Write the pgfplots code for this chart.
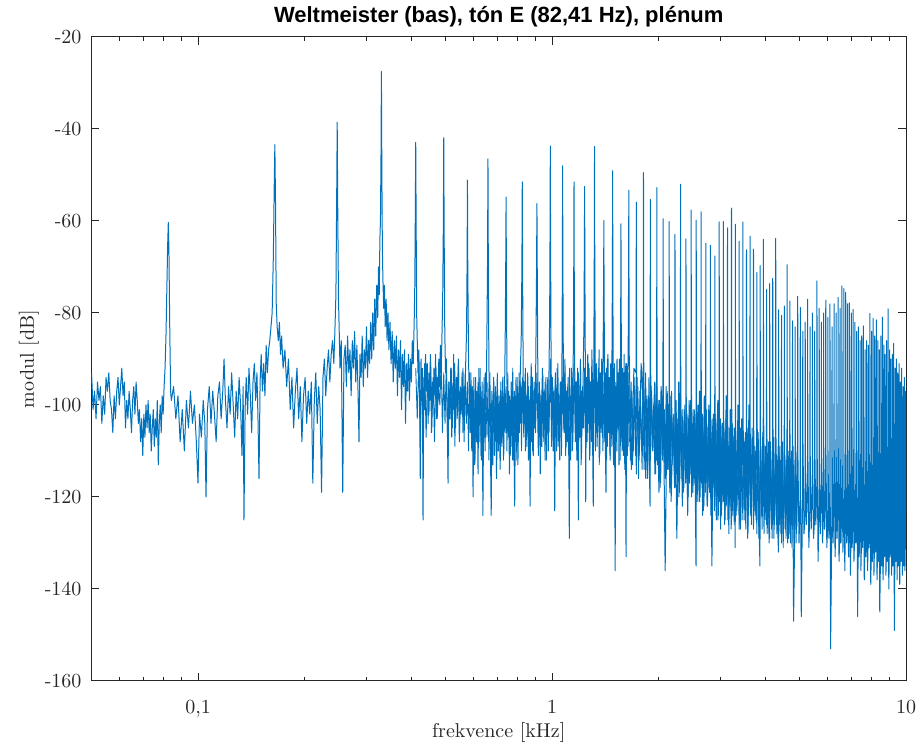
\documentclass[border=0pt]{standalone}
\usepackage{fontspec}
\usepackage{pgfplots}
\pgfplotsset{compat=1.18}
\usepackage{pgfplotstable}
\newfontfamily\titlefont{Liberation Sans}
\definecolor{mblue}{rgb}{0,0.447,0.741}
\definecolor{axgray}{rgb}{0.15,0.15,0.15}

% dense noise floor between harmonics, h = multiples of 82.41 Hz
\pgfplotstableread{
h db
5.00 -92
5.05 -103
5.10 -90
5.15 -106
5.20 -95
5.25 -101
5.30 -91
5.35 -107
5.40 -93
5.45 -102
5.50 -89
5.55 -105
5.60 -94
5.65 -108
5.70 -92
5.75 -103
5.80 -96
5.85 -100
5.90 -90
5.95 -106
6.00 -93
6.05 -104
6.10 -91
6.15 -107
6.20 -95
6.25 -102
6.30 -92
6.35 -105
6.40 -89
6.45 -109
6.50 -94
6.55 -103
6.60 -91
6.65 -106
6.70 -96
6.75 -101
6.80 -92
6.85 -108
6.90 -93
6.95 -104
7.00 -95
7.05 -110
7.10 -93
7.15 -106
7.20 -98
7.25 -109
7.30 -94
7.35 -112
7.40 -97
7.45 -105
7.50 -95
7.55 -108
7.60 -92
7.65 -111
7.70 -97
7.75 -106
7.80 -94
7.85 -110
7.90 -98
7.95 -107
8.00 -95
8.05 -112
8.10 -93
8.15 -108
8.20 -99
8.25 -105
8.30 -94
8.35 -111
8.40 -96
8.45 -107
8.50 -93
8.55 -110
8.60 -98
8.65 -104
8.70 -95
8.75 -109
8.80 -97
8.85 -112
8.90 -94
8.95 -106
9.00 -96
9.05 -110
9.10 -93
9.15 -107
9.20 -98
9.25 -111
9.30 -95
9.35 -105
9.40 -92
9.45 -109
9.50 -97
9.55 -106
9.60 -94
9.65 -112
9.70 -96
9.75 -108
9.80 -93
9.85 -104
9.90 -95
9.95 -110
10.0 -94
10.1 -107
10.2 -92
10.3 -109
10.4 -96
10.5 -104
10.6 -91
10.7 -110
10.8 -95
10.9 -106
11.0 -93
11.1 -111
11.2 -97
11.3 -105
11.4 -92
11.5 -108
11.6 -95
11.7 -112
11.8 -94
11.9 -106
12.0 -90
12.1 -109
12.2 -96
12.3 -104
12.4 -93
12.5 -110
12.6 -91
12.7 -107
12.8 -95
12.9 -111
13.0 -94
13.1 -105
13.2 -90
13.3 -109
13.4 -96
13.5 -106
13.6 -92
13.7 -112
13.8 -94
13.9 -108
14.0 -91
14.1 -104
14.2 -95
14.3 -110
14.4 -93
14.5 -107
14.6 -90
14.7 -111
14.8 -96
14.9 -105
15.0 -92
15.1 -109
15.2 -94
15.3 -106
15.4 -91
15.5 -112
15.6 -95
15.7 -108
15.8 -93
15.9 -104
16.0 -90
16.1 -110
16.2 -94
16.3 -107
16.4 -92
16.5 -113
16.6 -96
16.7 -106
16.8 -91
16.9 -110
17.0 -95
17.1 -108
17.2 -93
17.3 -112
17.4 -90
17.5 -106
17.6 -96
17.7 -111
17.8 -92
17.9 -109
18.0 -94
18.1 -113
18.2 -91
18.3 -107
18.4 -95
18.5 -110
18.6 -93
18.7 -105
18.8 -90
18.9 -112
19.0 -96
19.1 -108
19.2 -92
19.3 -111
19.4 -94
19.5 -106
19.6 -91
19.7 -113
19.8 -95
19.9 -109
20.0 -93
20.2 -112
20.4 -97
20.6 -110
20.8 -94
21.0 -115
21.2 -96
21.4 -111
21.6 -99
21.8 -114
22.0 -95
22.2 -109
22.4 -98
22.6 -116
22.8 -94
23.0 -112
23.2 -97
23.4 -110
23.6 -100
23.8 -115
24.0 -96
24.2 -113
24.4 -99
24.6 -117
24.8 -97
25.0 -111
25.2 -101
25.4 -116
25.6 -98
25.8 -114
26.0 -100
26.2 -118
26.4 -97
26.6 -112
26.8 -102
27.0 -117
27.2 -99
27.4 -115
27.6 -101
27.8 -119
28.0 -98
28.2 -114
28.4 -103
28.6 -118
28.8 -100
29.0 -116
29.2 -102
29.4 -120
29.6 -99
29.8 -115
30.0 -103
30.2 -119
30.4 -101
30.6 -117
30.8 -104
31.0 -121
31.2 -100
31.4 -116
31.6 -103
31.8 -120
32.0 -101
32.2 -118
32.4 -105
32.6 -122
32.8 -102
33.0 -117
33.2 -104
33.4 -121
33.6 -101
33.8 -119
34.0 -105
34.2 -123
34.4 -103
34.6 -118
34.8 -106
35.0 -122
35.2 -102
35.4 -120
35.6 -105
35.8 -124
36.0 -103
36.2 -119
36.4 -107
36.6 -123
36.8 -104
37.0 -121
37.2 -106
37.4 -125
37.6 -103
37.8 -120
38.0 -107
38.2 -124
38.4 -105
38.6 -122
38.8 -108
39.0 -126
39.2 -104
39.4 -121
39.6 -107
39.8 -125
40.0 -105
40.4 -123
40.8 -109
41.2 -126
41.6 -106
42.0 -122
42.4 -108
42.8 -127
43.2 -105
43.6 -124
44.0 -109
44.4 -126
44.8 -107
45.2 -123
45.6 -110
46.0 -128
46.4 -106
46.8 -125
47.2 -109
47.6 -127
48.0 -107
48.4 -124
48.8 -111
49.2 -128
49.6 -108
50.0 -126
50.4 -110
50.8 -129
51.2 -107
51.6 -125
52.0 -111
52.4 -128
52.8 -109
53.2 -126
53.6 -112
54.0 -130
54.4 -108
54.8 -127
55.2 -111
55.6 -129
56.0 -109
56.4 -126
56.8 -112
57.2 -130
57.6 -110
58.0 -127
58.4 -113
58.8 -129
59.2 -109
59.6 -128
60.0 -111
}\floor

% second pass of the noise floor between 1.65 and 5 kHz
\pgfplotstableread{
h db
20.1 -108
20.3 -95
20.5 -113
20.7 -98
20.9 -111
21.1 -94
21.3 -116
21.5 -97
21.7 -109
21.9 -99
22.1 -114
22.3 -93
22.5 -112
22.7 -98
22.9 -117
23.1 -96
23.3 -110
23.5 -100
23.7 -115
23.9 -95
24.1 -113
24.3 -99
24.5 -118
24.7 -97
24.9 -112
25.1 -101
25.3 -116
25.5 -96
25.7 -114
25.9 -100
26.1 -119
26.3 -98
26.5 -113
26.7 -102
26.9 -117
27.1 -99
27.3 -115
27.5 -103
27.7 -120
27.9 -98
28.1 -116
28.3 -101
28.5 -119
28.7 -104
28.9 -114
29.1 -100
29.3 -121
29.5 -103
29.7 -117
29.9 -99
30.1 -120
30.3 -104
30.5 -116
30.7 -101
30.9 -122
31.1 -105
31.3 -118
31.5 -100
31.7 -121
31.9 -104
32.1 -117
32.3 -102
32.5 -123
32.7 -106
32.9 -119
33.1 -101
33.3 -122
33.5 -105
33.7 -118
33.9 -103
34.1 -124
34.3 -106
34.5 -120
34.7 -102
34.9 -123
35.1 -107
35.3 -119
35.5 -104
35.7 -125
35.9 -106
36.1 -121
36.3 -103
36.5 -124
36.7 -108
36.9 -120
37.1 -105
37.3 -126
37.5 -107
37.7 -122
37.9 -104
38.1 -125
38.3 -109
38.5 -121
38.7 -106
38.9 -127
39.1 -105
39.3 -123
39.5 -108
39.7 -126
39.9 -106
40.2 -124
40.6 -107
41.0 -127
41.4 -105
41.8 -125
42.2 -109
42.6 -123
43.0 -106
43.4 -128
43.8 -108
44.2 -124
44.6 -105
45.0 -127
45.4 -109
45.8 -125
46.2 -107
46.6 -129
47.0 -110
47.4 -124
47.8 -106
48.2 -128
48.6 -109
49.0 -126
49.4 -111
49.8 -130
50.2 -108
50.6 -127
51.0 -110
51.4 -129
51.8 -107
52.2 -126
52.6 -112
53.0 -130
53.4 -109
53.8 -128
54.2 -111
54.6 -131
55.0 -108
55.4 -127
55.8 -112
56.2 -130
56.6 -110
57.0 -128
57.4 -113
57.8 -131
58.2 -109
58.6 -129
59.0 -112
59.4 -130
59.8 -110
}\floorb

% spectrum: h = frequency in multiples of the fundamental (82.41 Hz), db = modulus
\pgfplotstableread{
h db
0.607 -93
0.613 -101
0.619 -97
0.625 -103
0.631 -95
0.637 -99
0.643 -96
0.649 -104
0.655 -98
0.661 -102
0.667 -94
0.673 -97
0.679 -93
0.685 -99
0.691 -101
0.697 -106
0.703 -98
0.709 -103
0.715 -97
0.721 -94
0.727 -100
0.733 -96
0.739 -92
0.745 -98
0.751 -95
0.757 -105
0.763 -99
0.769 -103
0.775 -97
0.781 -101
0.787 -106
0.793 -99
0.799 -96
0.805 -102
0.811 -95
0.817 -99
0.823 -104
0.829 -101
0.835 -108
0.841 -103
0.847 -111
0.853 -102
0.859 -107
0.865 -100
0.871 -105
0.877 -99
0.883 -106
0.889 -102
0.895 -110
0.901 -105
0.907 -101
0.913 -109
0.919 -103
0.925 -107
0.931 -99
0.937 -113
0.943 -104
0.949 -100
0.955 -106
0.961 -98
0.967 -102
0.973 -96
0.979 -92
0.985 -85
0.991 -74
0.996 -65
1.000 -60.3
1.004 -66
1.009 -82
1.015 -97
1.020 -99
1.035 -96
1.050 -103
1.065 -98
1.080 -108
1.095 -101
1.110 -110
1.125 -99
1.140 -105
1.155 -97
1.170 -104
1.185 -100
1.200 -108
1.213 -117
1.225 -102
1.240 -107
1.255 -99
1.268 -104
1.278 -120
1.290 -101
1.305 -96
1.320 -104
1.335 -97
1.350 -102
1.365 -108
1.380 -98
1.395 -95
1.410 -103
1.425 -97
1.437 -90
1.450 -99
1.465 -105
1.480 -96
1.495 -102
1.510 -93
1.525 -100
1.540 -107
1.555 -97
1.570 -103
1.585 -94
1.600 -100
1.615 -111
1.627 -96
1.636 -125
1.648 -101
1.660 -94
1.675 -102
1.690 -92
1.705 -98
1.720 -106
1.735 -95
1.750 -91
1.765 -99
1.780 -93
1.792 -103
1.804 -116
1.817 -95
1.830 -89
1.845 -97
1.860 -91
1.875 -98
1.890 -87
1.905 -93
1.920 -88
1.935 -86
1.950 -83
1.965 -80
1.980 -68
1.992 -52
2.000 -43.4
2.008 -55
2.018 -78
2.030 -83
2.045 -86
2.060 -82
2.075 -89
2.090 -85
2.110 -92
2.135 -88
2.160 -96
2.185 -90
2.210 -101
2.235 -94
2.260 -105
2.285 -97
2.310 -92
2.335 -103
2.360 -96
2.385 -108
2.410 -98
2.435 -94
2.460 -104
2.485 -97
2.510 -102
2.535 -95
2.560 -117
2.585 -99
2.610 -93
2.635 -104
2.660 -96
2.685 -101
2.710 -119
2.735 -94
2.760 -90
2.785 -98
2.810 -92
2.835 -88
2.860 -95
2.885 -89
2.910 -86
2.935 -91
2.955 -84
2.975 -76
2.990 -55
3.000 -38.5
3.010 -56
3.025 -77
3.040 -84
3.055 -92
3.080 -86
3.110 -119
3.135 -90
3.160 -87
3.185 -96
3.210 -85
3.235 -93
3.260 -88
3.285 -98
3.310 -86
3.335 -92
3.360 -84
3.385 -95
3.410 -87
3.435 -97
3.457 -108
3.480 -89
3.505 -94
3.530 -85
3.555 -96
3.580 -88
3.605 -92
3.630 -83
3.655 -94
3.680 -86
3.705 -91
3.730 -82
3.755 -90
3.780 -80
3.805 -88
3.830 -77
3.855 -85
3.880 -74
3.905 -81
3.925 -70
3.945 -76
3.960 -64
3.975 -60
3.990 -45
4.000 -27.5
4.010 -47
4.025 -66
4.040 -73
4.060 -79
4.080 -74
4.100 -83
4.125 -77
4.150 -86
4.175 -80
4.200 -88
4.230 -82
4.260 -91
4.290 -84
4.320 -95
4.350 -86
4.380 -92
4.410 -85
4.440 -98
4.470 -88
4.500 -94
4.530 -86
4.560 -101
4.590 -89
4.620 -96
4.650 -88
4.680 -104
4.710 -91
4.740 -97
4.770 -89
4.800 -99
4.830 -90
4.860 -95
4.890 -86
4.920 -91
4.950 -82
4.970 -74
4.985 -60
5.000 -42.9
5.012 -58
5.030 -80
5.050 -86
5.075 -93
5.100 -88
5.125 -97
5.150 -116
5.175 -90
5.200 -99
5.222 -92
5.243 -125
5.270 -94
5.300 -101
5.330 -89
5.360 -97
5.390 -91
5.420 -104
5.450 -93
5.480 -99
5.510 -90
5.540 -106
5.570 -95
5.600 -100
5.630 -92
5.660 -98
5.690 -89
5.720 -103
5.750 -94
5.780 -99
5.810 -90
5.840 -96
5.870 -87
5.900 -93
5.930 -85
5.960 -76
5.985 -60
6.000 -41.9
6.015 -62
6.040 -84
6.070 -93
6.100 -90
6.130 -99
6.170 -117
6.200 -95
6.240 -103
6.280 -92
6.320 -107
6.360 -96
6.400 -101
6.440 -91
6.480 -105
6.520 -94
6.560 -99
6.600 -90
6.640 -108
6.680 -97
6.720 -102
6.760 -93
6.800 -106
6.840 -96
6.880 -100
6.920 -91
6.960 -84
6.985 -68
7.000 -51.1
7.015 -70
7.050 -90
7.080 -97
7.120 -106
7.160 -93
7.200 -110
7.230 -96
7.260 -120
7.300 -99
7.340 -113
7.380 -94
7.420 -108
7.460 -97
7.500 -115
7.540 -92
7.580 -104
7.620 -98
7.660 -112
7.700 -95
7.740 -124
7.780 -100
7.820 -107
7.860 -93
7.900 -101
7.940 -87
7.975 -70
8.000 -46.5
8.020 -72
8.050 -92
8.090 -99
8.130 -110
8.170 -124
8.210 -97
8.260 -113
8.310 -95
8.360 -108
8.410 -99
8.460 -116
8.510 -96
8.560 -110
8.610 -100
8.660 -114
8.710 -97
8.760 -107
8.810 -94
8.860 -111
8.910 -98
8.950 -85
8.980 -70
9.000 -54.8
9.020 -72
9.055 -96
9.100 -106
9.150 -97
9.200 -115
9.250 -99
9.300 -109
9.350 -95
9.400 -112
9.450 -100
9.520 -122
9.570 -98
9.620 -108
9.670 -94
9.720 -113
9.770 -99
9.820 -106
9.870 -93
9.930 -86
9.975 -70
10.000 -51.5
10.025 -73
10.060 -94
10.110 -104
10.160 -95
10.210 -110
10.260 -98
10.310 -106
10.360 -93
10.410 -112
10.470 -99
10.520 -122
10.570 -96
10.620 -108
10.680 -94
10.740 -111
10.800 -97
10.860 -105
10.920 -90
10.970 -72
11.000 -56.2
11.030 -75
11.070 -96
11.120 -107
11.180 -95
11.240 -115
11.300 -98
11.360 -109
11.420 -93
11.480 -104
11.540 -97
11.600 -112
11.660 -94
11.720 -106
11.780 -99
11.840 -110
11.900 -92
11.950 -80
11.980 -62
12.000 -43.7
12.020 -64
12.060 -90
12.110 -103
12.160 -94
12.220 -110
12.280 -97
12.350 -123
12.410 -96
12.480 -107
12.550 -92
12.620 -109
12.690 -98
12.760 -112
12.830 -95
12.900 -104
12.950 -88
12.980 -70
13.000 -48.0
13.025 -72
13.070 -95
13.120 -106
13.190 -93
13.260 -111
13.330 -97
13.400 -108
13.470 -94
13.540 -114
13.580 -129
13.630 -98
13.700 -106
13.770 -92
13.840 -110
13.900 -96
13.950 -85
13.980 -68
14.000 -51.5
14.025 -74
14.070 -94
14.120 -108
14.190 -95
14.260 -112
14.330 -92
14.400 -125
14.460 -98
14.530 -107
14.600 -91
14.670 -113
14.740 -97
14.810 -105
14.880 -90
14.940 -82
14.975 -66
15.000 -52.5
15.025 -70
15.070 -92
15.110 -121
15.170 -94
15.240 -108
15.310 -89
15.380 -104
15.450 -92
15.520 -111
15.590 -95
15.660 -102
15.730 -88
15.800 -108
15.870 -122
15.930 -88
15.975 -66
16.000 -43.8
16.025 -68
16.070 -90
16.130 -106
16.200 -91
16.270 -109
16.340 -95
16.410 -103
16.480 -88
16.550 -111
16.620 -93
16.690 -105
16.760 -90
16.830 -107
16.900 -92
16.950 -80
16.980 -70
17.000 -59.9
17.020 -72
17.070 -93
17.130 -104
17.240 -119
17.300 -92
17.380 -109
17.460 -89
17.540 -106
17.620 -94
17.700 -112
17.780 -91
17.860 -103
17.930 -87
17.975 -70
18.000 -49.1
18.025 -72
18.070 -95
18.130 -107
18.200 -92
18.300 -136
18.360 -96
18.440 -108
18.520 -90
18.600 -105
18.680 -93
18.760 -113
18.840 -91
18.920 -102
18.960 -86
19.000 -60.6
19.030 -80
19.080 -96
19.160 -110
19.240 -93
19.320 -107
19.400 -89
19.480 -114
19.560 -95
19.640 -133
19.720 -91
19.800 -111
19.880 -94
19.950 -80
20.000 -53.3
20.040 -88
20.330 -114
20.670 -92
20.960 -93
21.000 -55.9
21.040 -97
21.330 -112
21.670 -91
21.960 -101
22.000 -49.5
22.040 -94
22.330 -116
22.670 -98
22.960 -122
23.000 -55.3
23.040 -92
23.330 -109
23.670 -95
23.960 -112
24.000 -52.7
24.040 -99
24.330 -119
24.670 -96
24.960 -105
25.000 -59.5
25.040 -100
25.330 -136
25.670 -97
25.960 -114
26.000 -60.1
26.040 -96
26.330 -121
26.670 -103
26.960 -118
27.000 -62.9
27.040 -98
27.330 -129
27.670 -95
27.960 -110
28.000 -52.0
28.040 -99
28.330 -122
28.670 -101
28.960 -117
29.000 -63.9
29.040 -97
29.330 -124
29.670 -100
29.960 -112
30.000 -57.6
30.040 -96
30.330 -119
30.670 -102
30.960 -135
31.000 -59.8
31.040 -99
31.330 -121
31.670 -97
31.960 -115
32.000 -58.0
32.040 -101
32.330 -124
32.670 -98
32.960 -109
33.000 -64.8
33.040 -103
33.330 -122
33.670 -100
33.960 -118
34.000 -65.3
34.040 -99
34.330 -135
34.670 -102
34.960 -113
35.000 -67.6
35.040 -104
35.330 -125
35.670 -99
35.960 -120
36.000 -60.2
36.040 -101
36.330 -127
36.670 -104
36.960 -112
37.000 -60.1
37.040 -100
37.330 -123
37.670 -98
37.960 -119
38.000 -61.5
38.040 -103
38.330 -128
38.670 -101
38.960 -114
39.000 -57.2
39.040 -99
39.330 -124
39.670 -105
39.960 -131
40.000 -60.7
40.040 -102
40.330 -122
40.670 -100
40.960 -117
41.000 -64.4
41.040 -104
41.330 -127
41.670 -103
41.960 -113
42.000 -60.2
42.040 -101
42.330 -125
42.670 -106
42.960 -120
43.000 -66.3
43.040 -103
43.330 -129
43.670 -100
43.960 -115
44.000 -63.3
44.040 -105
44.330 -124
44.670 -107
44.940 -117
45.000 -66.1
45.060 -105
45.500 -124
45.940 -110
46.000 -71.2
46.060 -103
46.500 -122
46.940 -135
47.000 -69.7
47.060 -106
47.500 -120
47.940 -113
48.000 -64.0
48.060 -102
48.500 -125
48.940 -116
49.000 -74.9
49.060 -105
49.500 -121
49.940 -129
50.000 -73.6
50.060 -107
50.500 -123
50.940 -114
51.000 -72.5
51.060 -104
51.500 -126
51.940 -118
52.000 -63.8
52.060 -106
52.500 -124
52.940 -132
53.000 -79.3
53.060 -108
53.500 -126
53.940 -115
54.000 -80.5
54.060 -107
54.500 -128
54.940 -120
55.000 -78.5
55.060 -109
55.500 -125
55.940 -117
56.000 -69.5
56.060 -107
56.500 -129
56.940 -122
57.000 -77.4
57.060 -108
57.500 -126
57.940 -118
58.000 -81.7
58.060 -109
58.400 -147
58.940 -123
59.000 -83
59.060 -107
59.500 -127
59.940 -116
60.000 -76.4
60.060 -110
60.500 -130
60.940 -121
61.000 -78.8
61.060 -108
61.400 -146
61.940 -118
62.000 -84
62.060 -107
62.500 -128
62.940 -124
63.000 -82
63.060 -109
63.500 -126
63.940 -117
64.000 -77.0
64.060 -108
64.500 -131
64.940 -122
65.000 -83
65.060 -110
65.500 -127
65.940 -119
66.000 -80
66.060 -107
66.500 -129
66.940 -125
67.000 -84
67.060 -109
67.500 -126
67.940 -117
68.000 -73.0
68.060 -108
68.500 -134
68.940 -121
69.000 -79
69.060 -110
69.500 -128
69.940 -118
70.000 -82
70.060 -107
70.500 -130
70.940 -124
71.000 -80
71.060 -109
71.500 -127
71.940 -120
72.000 -77.2
72.060 -108
72.500 -131
72.940 -126
73.000 -81
73.060 -110
73.500 -129
73.940 -118
74.000 -78.0
74.060 -107
74.300 -153
74.940 -123
75.000 -83
75.060 -109
75.500 -130
75.940 -119
76.000 -78.0
76.060 -108
76.500 -133
76.940 -125
77.000 -80
77.060 -110
77.500 -129
77.940 -121
78.000 -76.6
78.060 -107
78.500 -134
78.940 -127
79.000 -79
79.060 -109
79.500 -130
79.940 -120
80.000 -74.1
80.060 -108
80.500 -132
80.940 -124
81.000 -74.7
81.060 -110
81.500 -136
81.940 -121
82.000 -75.5
82.060 -107
82.500 -130
82.940 -126
83.000 -78
83.060 -109
83.500 -133
83.940 -122
84.000 -77.8
84.060 -108
84.500 -137
84.940 -127
85.000 -80
85.060 -110
85.500 -131
85.940 -123
86.000 -79.2
86.060 -107
86.500 -134
86.940 -128
87.000 -82
87.060 -109
87.500 -130
87.940 -124
88.000 -84
88.060 -108
88.600 -146
88.940 -129
89.000 -83
89.060 -110
89.500 -133
89.940 -123
90.000 -86
90.060 -107
90.500 -136
90.940 -128
91.000 -85
91.060 -109
91.500 -131
91.940 -124
92.000 -82.8
92.060 -108
92.500 -138
92.940 -130
93.000 -88
93.060 -110
93.500 -133
93.940 -125
94.000 -86
94.060 -107
94.500 -136
94.940 -129
95.000 -87
95.060 -109
95.500 -131
95.940 -124
96.000 -80.1
96.060 -108
96.500 -139
96.940 -130
97.000 -84
97.060 -110
97.500 -134
97.940 -125
98.000 -81.2
98.060 -107
98.500 -137
98.940 -129
99.000 -85
99.060 -109
99.500 -132
99.940 -124
100.000 -81.5
100.060 -108
100.500 -138
100.940 -130
101.000 -86
101.060 -110
101.500 -134
101.940 -125
102.000 -88
102.060 -107
102.300 -145
102.940 -129
103.000 -85
103.060 -109
103.500 -135
103.940 -124
104.000 -80.9
104.060 -108
104.500 -138
104.940 -130
105.000 -87
105.060 -110
105.500 -133
105.940 -125
106.000 -89
106.060 -107
106.500 -137
106.940 -129
107.000 -86
107.060 -109
107.500 -134
107.940 -124
108.000 -79.1
108.060 -108
108.500 -140
108.940 -130
109.000 -88
109.060 -110
109.500 -133
109.940 -125
110.000 -90
110.060 -107
110.500 -137
110.940 -129
111.000 -89
111.060 -109
111.500 -135
111.940 -124
112.000 -86.6
112.060 -108
112.500 -149
112.940 -130
113.000 -92
113.060 -110
113.500 -134
113.940 -125
114.000 -90
114.060 -107
114.500 -138
114.940 -129
115.000 -93
115.060 -109
115.500 -135
115.940 -124
116.000 -91
116.060 -108
116.500 -139
116.940 -130
117.000 -95
117.060 -110
117.500 -134
117.940 -125
118.000 -92
118.060 -107
118.500 -137
118.940 -129
119.000 -96
119.060 -109
119.500 -135
119.940 -124
120.000 -94
120.060 -108
120.500 -136
120.940 -128
121.000 -97
121.060 -107
121.340 -103
}\spec

\begin{document}
\begin{tikzpicture}
\begin{axis}[
  name=ax, at={(0,0)}, anchor=south west,
  scale only axis, width=407.25pt, height=322pt,
  xmode=log, xmin=0.05, xmax=10, ymin=-160, ymax=-20,
  xtick={0.1,1,10}, xticklabels={{0,1},1,10},
  minor xtick={0.06,0.07,0.08,0.09,0.2,0.3,0.4,0.5,0.6,0.7,0.8,0.9,2,3,4,5,6,7,8,9},
  ytick={-160,-140,-120,-100,-80,-60,-40,-20},
  yticklabels={-160,-140,-120,-100,-80,-60,-40,-20},
  tick align=inside, tick pos=both,
  major tick length=4pt, minor tick length=2pt,
  axis line style={axgray, line width=0.5pt},
  every tick/.style={axgray, line width=0.5pt},
  tick label style={font=\fontsize{10}{12}\selectfont, text=axgray},
  xticklabel style={yshift=-6pt},
  yticklabel style={xshift=-1.5pt},
  xlabel={frekvence [kHz]}, ylabel={modul [dB]},
  label style={font=\fontsize{10}{12}\selectfont, text=axgray},
  xlabel style={at={(0.5,0)}, anchor=base, yshift=-28.5pt},
  ylabel style={at={(-0.0706,0.5)}, anchor=base},
  title={Weltmeister (bas), tón E (82,41 Hz), plénum},
  title style={font=\titlefont\bfseries\fontsize{11}{13}\selectfont, text=black, at={(0.5,1)}, anchor=base, yshift=1.25pt},
  clip=true,
]
\addplot[color=mblue, line width=0.45pt, line join=round] table[x expr=\thisrow{h}*0.08241, y=db] {\floor};
\addplot[color=mblue, line width=0.45pt, line join=round] table[x expr=\thisrow{h}*0.08241, y=db] {\floorb};
\addplot[color=mblue, line width=0.5pt, line join=round] table[x expr=\thisrow{h}*0.08241, y=db] {\spec};
\end{axis}
\pgfresetboundingbox
\path[use as bounding box] (-45.75pt,-31.5pt) rectangle (413.25pt,340.5pt);
\end{tikzpicture}
\end{document}
